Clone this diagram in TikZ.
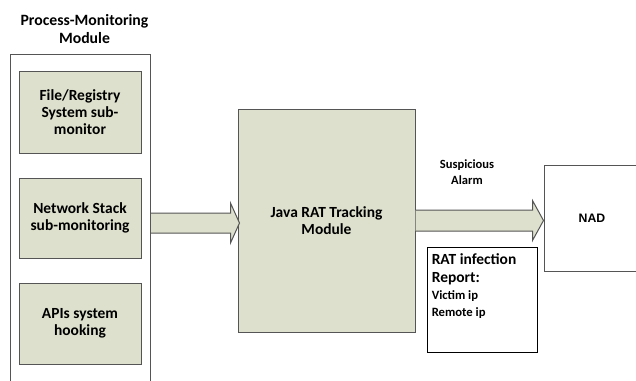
\documentclass[tikz,border=0pt]{standalone}
\usepackage{fontspec}
\setmainfont{Carlito}
\newfontfamily\nadfont{Liberation Sans}
\usetikzlibrary{calc}
\definecolor{boxgreen}{RGB}{221,224,204}
\definecolor{edgegray}{RGB}{85,85,85}

\tikzset{
  greenbox/.style={draw=edgegray, fill=boxgreen, line width=0.75pt, inner sep=0pt, align=center,
    font=\fontsize{11.6}{12.75}\selectfont\bfseries},
  whitebox/.style={draw=edgegray, fill=white, line width=0.75pt, inner sep=0pt, align=center},
  fatfill/.style={fill=boxgreen},
  fatedge/.style={draw=edgegray, line width=0.75pt},
}

\begin{document}
\begin{tikzpicture}[x=0.75pt,y=0.75pt,yscale=-1,xscale=1]
\clip (0,0) rectangle (636,380);

%Shape: Rectangle (outer module, runs off the bottom)
\node [whitebox, anchor=north west, minimum width=105pt, minimum height=259.5pt] (pmm) at (10,54) {};
% Text Node
\node [align=center, font=\fontsize{11.8}{13.3}\selectfont\bfseries] (pmmtitle) at (84.5,29) {Process-Monitoring\\Module};

%Shape: Rectangle
\node [greenbox, minimum width=91.5pt, minimum height=61.5pt] (filemon) at (80,112) {File/Registry\\System sub-\\monitor};
%Shape: Rectangle
\node [greenbox, minimum width=91.5pt, minimum height=60pt] (netmon) at (80,218) {Network Stack\\sub-monitoring};
%Shape: Rectangle
\node [greenbox, minimum width=91.5pt, minimum height=60.75pt] (apihook) at (80,323.5) {APIs system\\hooking};

%Shape: Rectangle
\node [greenbox, minimum width=132.75pt, minimum height=167.25pt] (java) at (326.5,220.5) {Java RAT Tracking\\Module};

%Shape: Rectangle (runs off the right side)
\node [whitebox, minimum width=72pt, minimum height=79.5pt, font=\nadfont\fontsize{9.2}{11}\selectfont\bfseries] (nad) at (592,218) {NAD};

%Shape: Rectangle
\node [whitebox, draw=black, anchor=north west, minimum width=82.5pt, minimum height=78.75pt] (report) at (427,247) {};
% Text Node
\node [anchor=north west, inner sep=0pt, align=left, font=\fontsize{9.5}{11.25}\selectfont\bfseries] (reporttxt) at ($(report.north west)+(4.5,6)$)
  {{\fontsize{11.6}{11.25}\selectfont RAT infection}\\[2.25pt]
   {\fontsize{11.6}{11.25}\selectfont Report:}\\[1.5pt]
   Victim ip\\[1.5pt]
   Remote ip};

% Text Node
\node [align=center, font=\fontsize{9.4}{11.8}\selectfont\bfseries] (alarm) at (467,172) {Suspicious\\Alarm};

%Block Arrow: module -> tracking
\coordinate (a1s) at ($(pmm.east |- java.west)+(0,2.5)$);
\coordinate (a1e) at ($(java.west)+(2,2.5)$);
\fill [fatfill] ($(a1s)+(0,-10)$) -- ($(a1e)+(-9,-10)$) -- ($(a1e)+(-9,-20)$) -- (a1e) -- ($(a1e)+(-9,20)$) -- ($(a1e)+(-9,10)$) -- ($(a1s)+(0,10)$) -- cycle;
\draw [fatedge] ($(a1s)+(0,-10)$) -- ($(a1e)+(-9,-10)$) -- ($(a1e)+(-9,-20)$) -- (a1e) -- ($(a1e)+(-9,20)$) -- ($(a1e)+(-9,10)$) -- ($(a1s)+(0,10)$);

%Block Arrow: tracking -> NAD
\coordinate (a2s) at (java.east);
\coordinate (a2e) at (nad.west |- java.east);
\fill [fatfill] ($(a2s)+(0,-10.5)$) -- ($(a2e)+(-11,-10.5)$) -- ($(a2e)+(-11,-20)$) -- (a2e) -- ($(a2e)+(-11,20)$) -- ($(a2e)+(-11,10.5)$) -- ($(a2s)+(0,10.5)$) -- cycle;
\draw [fatedge] ($(a2s)+(0,-10.5)$) -- ($(a2e)+(-11,-10.5)$) -- ($(a2e)+(-11,-20)$) -- (a2e) -- ($(a2e)+(-11,20)$) -- ($(a2e)+(-11,10.5)$) -- ($(a2s)+(0,10.5)$);

\end{tikzpicture}
\end{document}
